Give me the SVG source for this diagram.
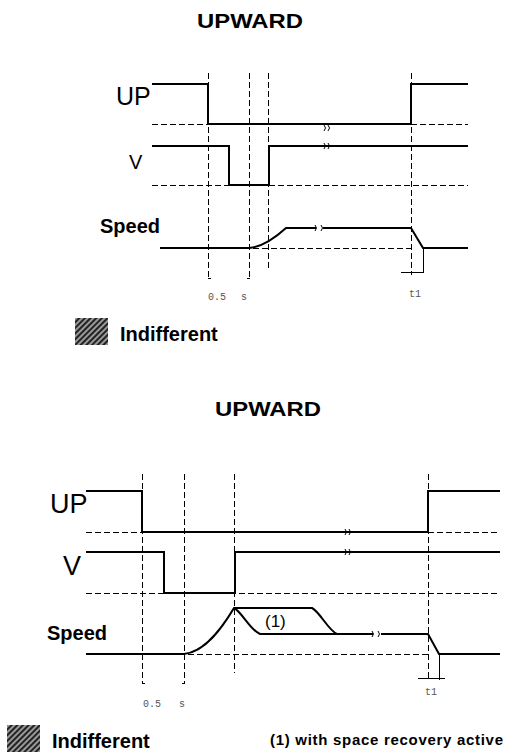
<svg xmlns="http://www.w3.org/2000/svg" width="513" height="753" viewBox="0 0 513 753">
<style>
.sig{fill:none;stroke:#000;stroke-width:2;stroke-linejoin:miter}
.dash{fill:none;stroke:#000;stroke-width:1;stroke-dasharray:6,3}
.thin{fill:none;stroke:#000;stroke-width:1}
.brk{fill:none;stroke:#000;stroke-width:1}
.title{font-family:"Liberation Sans",Arial,sans-serif;font-weight:bold;font-size:21px}
.lab{font-family:"Liberation Sans",Arial,sans-serif}
.bold{font-family:"Liberation Sans",Arial,sans-serif;font-weight:bold}
.small{font-family:"Liberation Mono",monospace;font-size:10px;fill:#555}
</style>
<defs>
<pattern id="hatch" width="4" height="4" patternUnits="userSpaceOnUse" patternTransform="rotate(45)">
<rect width="4" height="4" fill="#999"/>
<rect width="2" height="4" fill="#222"/>
</pattern>
</defs>
<rect width="513" height="753" fill="#fff"/>

<!-- TOP DIAGRAM -->
<g id="top-title"><text class="title" x="197" y="28" textLength="106" lengthAdjust="spacingAndGlyphs">UPWARD</text></g>
<g id="top-labels">
<text class="lab" x="116" y="105" font-size="25">UP</text>
<text class="lab" x="129" y="169" font-size="20">V</text>
<text class="bold" x="100" y="233" font-size="20">Speed</text>
</g>
<g id="top-connectors">
<line class="dash" x1="208.5" y1="73" x2="208.5" y2="280"/>
<line class="dash" x1="249.5" y1="73" x2="249.5" y2="280"/>
<line class="dash" x1="268.5" y1="73" x2="268.5" y2="268"/>
<line class="dash" x1="411.5" y1="73" x2="411.5" y2="275"/>
<line class="dash" x1="152" y1="124.5" x2="208" y2="124.5"/>
<line class="dash" x1="411" y1="124.5" x2="468" y2="124.5"/>
<line class="dash" x1="152" y1="185.5" x2="468" y2="185.5"/>
<line class="dash" x1="253" y1="248.5" x2="411" y2="248.5"/>
<polyline class="sig" points="152,84 208,84 208,124 411,124 411,84 468,84"/>
<polyline class="sig" points="152,146 229,146 229,185 269,185 269,146 468,146"/>
<path class="sig" d="M160,248 H249 C262,247 275,238 286,228 H316 M323,228 H411 L423,248 H468"/>
<path class="brk" d="M324,125 q3,3 0,6 M328,125 q3,3 0,6"/>
<path class="brk" d="M324,143 q3,3 0,6 M328,143 q3,3 0,6"/>
<path class="brk" d="M315,225 q3,3 0,6 M321,225 q3,3 0,6"/>
<path class="thin" d="M208,278.5 h3 M250,278.5 h-3"/>
<path class="thin" d="M423.5,248 V272 M401,272.5 H424"/>
</g>
<g id="top-times">
<text class="small" x="208" y="300">0.5</text>
<text class="small" x="241" y="300">s</text>
<text class="small" x="409" y="297">t1</text>
</g>
<g id="top-legend">
<rect x="75" y="318" width="33" height="27" fill="url(#hatch)"/>
<text class="bold" x="120" y="341" font-size="20">Indifferent</text>
</g>

<!-- BOTTOM DIAGRAM -->
<g id="bottom-title"><text class="title" x="215" y="416" textLength="106" lengthAdjust="spacingAndGlyphs">UPWARD</text></g>
<g id="bottom-labels">
<text class="lab" x="50" y="513" font-size="27">UP</text>
<text class="lab" x="63" y="575" font-size="27">V</text>
<text class="bold" x="47" y="640" font-size="20">Speed</text>
</g>
<g id="bottom-connectors">
<line class="dash" x1="142.5" y1="474" x2="142.5" y2="683"/>
<line class="dash" x1="184.5" y1="474" x2="184.5" y2="683"/>
<line class="dash" x1="234.5" y1="474" x2="234.5" y2="673"/>
<line class="dash" x1="428.5" y1="474" x2="428.5" y2="680"/>
<line class="dash" x1="86" y1="532.5" x2="142" y2="532.5"/>
<line class="dash" x1="428" y1="532.5" x2="500" y2="532.5"/>
<line class="dash" x1="86" y1="593.5" x2="500" y2="593.5"/>
<line class="dash" x1="188" y1="654.5" x2="428" y2="654.5"/>
<polyline class="sig" points="86,491 142,491 142,532 428,532 428,491 500,491"/>
<polyline class="sig" points="86,552 164,552 164,593 235,593 235,552 500,552"/>
<path class="sig" d="M86,654 H184 C205,652 222,628 234,608 H312 C320,612 328,630 337,634"/>
<path class="sig" d="M234,608 C242,612 250,630 260,634 H373 M381,634 H428 L439,654 H500"/>
<path class="brk" d="M345,529 q3,3 0,6 M349,529 q3,3 0,6"/>
<path class="brk" d="M345,549 q3,3 0,6 M349,549 q3,3 0,6"/>
<path class="brk" d="M372,631 q3,3 0,6 M378,631 q3,3 0,6"/>
<path class="thin" d="M142,683.5 h3 M185,683.5 h-3"/>
<path class="thin" d="M439.5,654 V680 M418,678.5 H445"/>
</g>
<g id="bottom-label-1"><text class="lab" x="265" y="627" font-size="17">(1)</text></g>
<g id="bottom-times">
<text class="small" x="143" y="707">0.5</text>
<text class="small" x="179" y="707">s</text>
<text class="small" x="425" y="695">t1</text>
</g>
<g id="bottom-legend">
<rect x="7" y="725" width="33" height="27" fill="url(#hatch)"/>
<text class="bold" x="52" y="748" font-size="20">Indifferent</text>
<text class="bold" x="270" y="745" font-size="15" textLength="233">(1) with space recovery active</text>
</g>
</svg>
